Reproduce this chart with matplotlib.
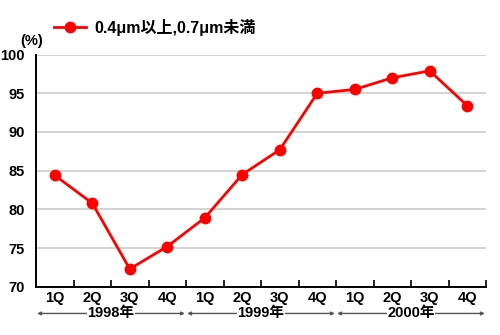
import matplotlib
matplotlib.use("Agg")
import matplotlib.pyplot as plt
import matplotlib.transforms as mtransforms

quarters = ["1Q", "2Q", "3Q", "4Q"] * 3
years = ["1998年", "1999年", "2000年"]
values = [84.4, 80.8, 72.3, 75.2, 78.9, 84.5, 87.7, 95.0, 95.5, 97.0, 97.9, 93.4]
series_name = "0.4μm以上,0.7μm未満"
yticks = [70, 75, 80, 85, 90, 95, 100]

fam = ["Liberation Sans", "Noto Sans CJK JP", "DejaVu Sans"]
plt.rcParams["font.family"] = fam
plt.rcParams["font.weight"] = "bold"

fig = plt.figure(figsize=(5, 3.35), dpi=100)
ax = fig.add_axes([0.072, 0.144, 0.9, 0.693])

x = list(range(len(values)))
ax.plot(x, values, color="#ff0000", lw=2.0, marker="o", markersize=7.5,
        label=series_name, clip_on=False, zorder=3)

ax.set_xlim(-0.5, len(values) - 0.5)
ax.set_ylim(70, 100)
ax.set_yticks(yticks)
ax.set_yticklabels([str(v) for v in yticks], fontsize=10.5, fontweight="bold")
ax.tick_params(axis="y", length=0, pad=8)
ax.yaxis.grid(True, color="#cccccc", lw=1.2)
ax.set_axisbelow(True)

ax.set_xticks([i - 0.5 for i in range(len(values) + 1)], minor=False)
ax.set_xticklabels([])
ax.tick_params(axis="x", which="major", direction="in", length=5, width=1.2, color="black")
ax.set_xticks(x, minor=True)
ax.set_xticklabels(quarters, minor=True, fontsize=10.5, fontweight="bold")
ax.tick_params(axis="x", which="minor", length=0, pad=3)

for s in ["top", "right"]:
    ax.spines[s].set_visible(False)
for s in ["left", "bottom"]:
    ax.spines[s].set_color("black")
    ax.spines[s].set_linewidth(1.4)

trans = mtransforms.blended_transform_factory(ax.transData, ax.transAxes)
yy = -0.115
for k, yr in enumerate(years):
    x0 = 4 * k - 0.5
    x1 = 4 * k + 3.5
    ax.annotate("", xy=(x0 + 0.03, yy), xytext=(x1 - 0.03, yy), xycoords=trans, textcoords=trans,
                arrowprops=dict(arrowstyle="<|-|>", color="#555555", lw=1.0,
                                mutation_scale=5, shrinkA=0, shrinkB=0),
                annotation_clip=False)
    ax.text((x0 + x1) / 2, yy, yr, transform=trans, ha="center", va="center",
            fontsize=10.5, fontweight="bold", family=fam,
            bbox=dict(boxstyle="square,pad=0.05", fc="white", ec="none"))

fig.text(0.04, 0.858, "(%)", fontsize=10.5, fontweight="bold", ha="left", va="bottom")

leg = fig.legend(loc="center left", bbox_to_anchor=(0.08, 0.918), frameon=False,
                 prop=dict(family=fam, weight="bold", size=11.5), handlelength=2.0,
                 handletextpad=0.5)

fig.savefig("out.png", dpi=100)
